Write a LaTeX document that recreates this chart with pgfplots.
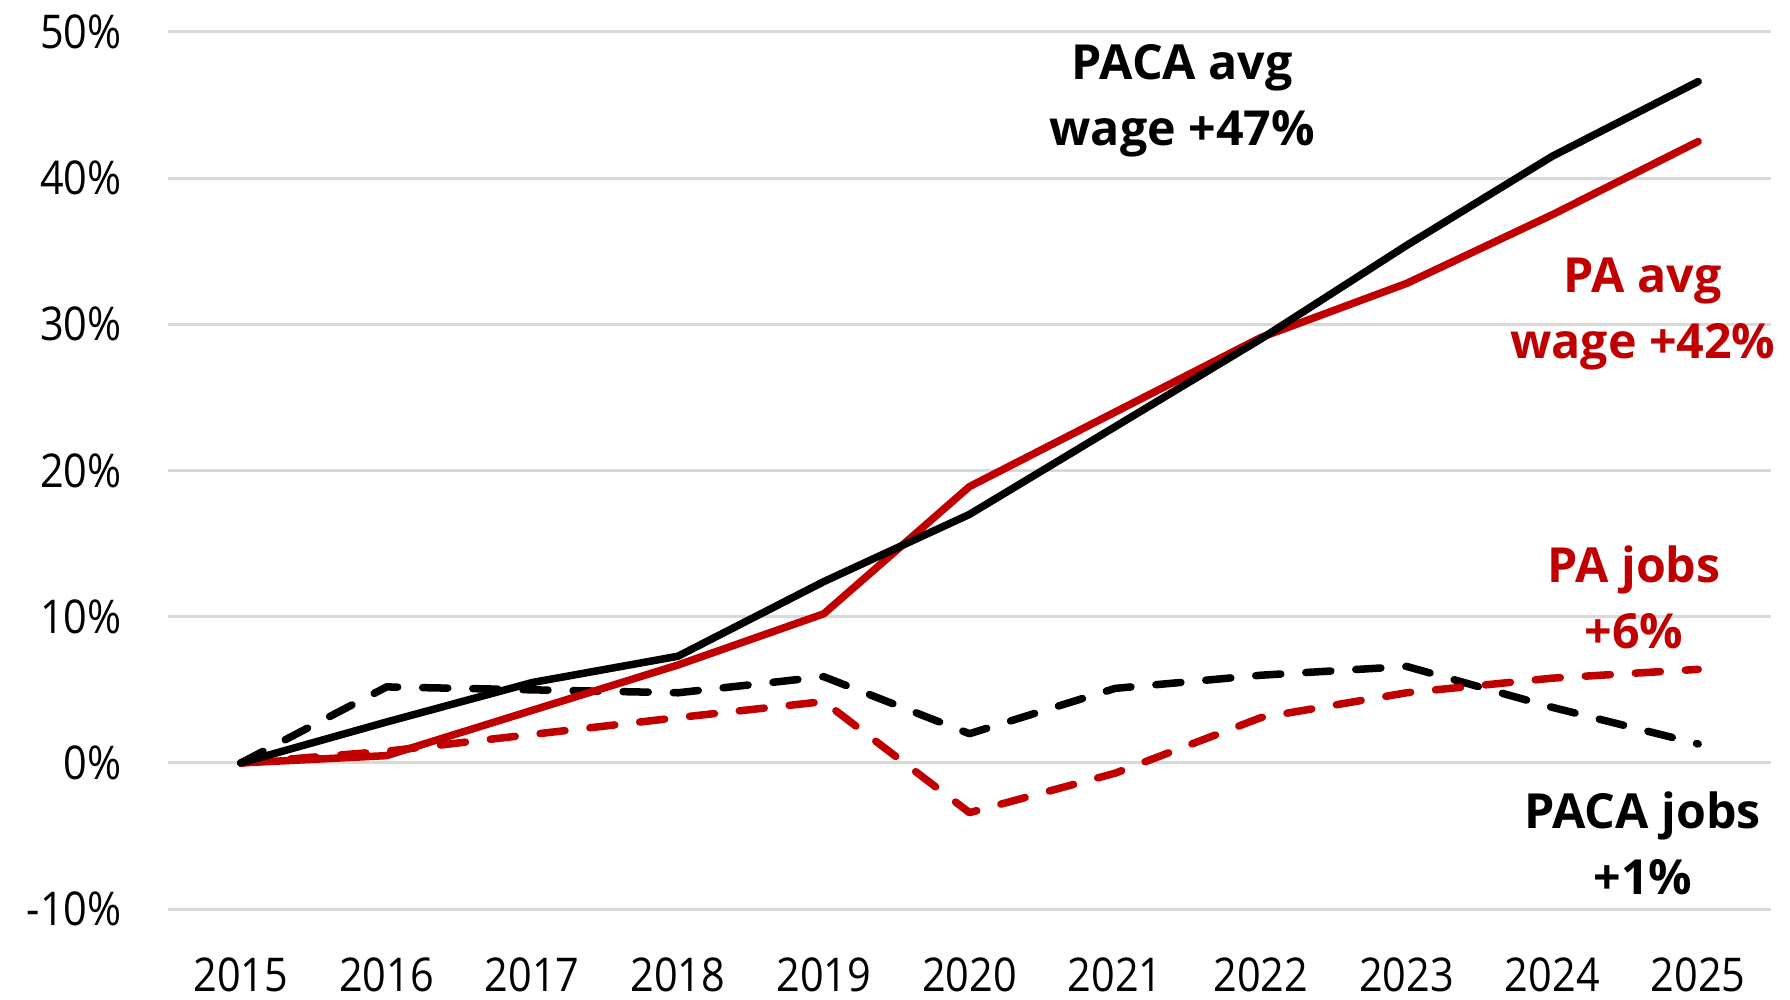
\documentclass[border=0pt]{standalone}
\usepackage{fontspec}
\setmainfont{Open Sans}
\newfontfamily\tickfont{Open Sans}[FakeStretch=0.89]
\usepackage{pgfplots}
\pgfplotsset{compat=1.18}
\definecolor{myred}{HTML}{C00000}
\definecolor{grid}{HTML}{D9D9D9}
\begin{document}
\begin{tikzpicture}
\begin{axis}[
  at={(0,0)}, anchor=south west,
  scale only axis,
  width=447.7pt, height=245pt,
  xmin=2014.5, xmax=2025.5,
  ymin=-10, ymax=50,
  axis line style={draw=none},
  clip=false,
  xtick={2015,...,2025},
  xticklabels={2015,2016,2017,2018,2019,2020,2021,2022,2023,2024,2025},
  ytick={-10,0,10,20,30,40,50},
  yticklabels={-10\%,0\%,10\%,20\%,30\%,40\%,50\%},
  tick style={draw=none},
  every tick label/.append style={font=\tickfont\fontsize{13}{15}\selectfont},
  yticklabel style={anchor=east, xshift=-9.4pt},
  xticklabel style={anchor=north, yshift=-10pt},
  line join=round,
]
\pgfplotsinvokeforeach{-10,0,10,20,30,40,50}{
  \draw[grid, line width=0.85pt] (axis cs:2014.5,#1) -- (axis cs:2025.5,#1);
}
% PACA jobs (black dashed)
\addplot[black, line width=2.1pt, line cap=round, dash pattern=on 7pt off 7pt] coordinates {
(2015,0) (2016,5.2) (2017,5.0) (2018,4.8) (2019,5.9) (2020,2.0) (2021,5.1) (2022,6.0) (2023,6.6) (2024,3.8) (2025,1.3)};
% PA jobs (red dashed)
\addplot[myred, line width=2.1pt, line cap=round, dash pattern=on 7pt off 7pt] coordinates {
(2015,0) (2016,0.8) (2017,1.95) (2018,3.1) (2019,4.2) (2020,-3.4) (2021,-0.7) (2022,3.1) (2023,4.8) (2024,5.8) (2025,6.4)};
% PA avg wage (red solid)
\addplot[myred, line width=2.1pt, line cap=round] coordinates {
(2015,0) (2016,0.5) (2017,3.6) (2018,6.7) (2019,10.2) (2020,18.9) (2021,24.0) (2022,29.1) (2023,32.8) (2024,37.5) (2025,42.5)};
% PACA avg wage (black solid)
\addplot[black, line width=2.1pt, line cap=round] coordinates {
(2015,0) (2016,2.8) (2017,5.5) (2018,7.3) (2019,12.4) (2020,17.0) (2021,23.0) (2022,29.0) (2023,35.4) (2024,41.5) (2025,46.6)};
\node[align=center, font=\bfseries\fontsize{13.5}{18.4}\selectfont, text=black] at (axis cs:2021.46,45.3) {PACA avg\\wage +47\%};
\node[align=center, font=\bfseries\fontsize{13.5}{18.4}\selectfont, text=myred] at (axis cs:2024.62,30.7) {PA avg\\wage +42\%};
\node[align=center, font=\bfseries\fontsize{13.5}{18.4}\selectfont, text=myred] at (axis cs:2024.56,11.3) {PA jobs\\+6\%};
\node[align=center, font=\bfseries\fontsize{13.5}{18.4}\selectfont, text=black] at (axis cs:2024.62,-5.5) {PACA jobs\\+1\%};
\end{axis}
\pgfresetboundingbox
\path[use as bounding box] (-46.9pt,-25.1pt) rectangle (453.0pt,253.9pt);
\end{tikzpicture}
\end{document}
